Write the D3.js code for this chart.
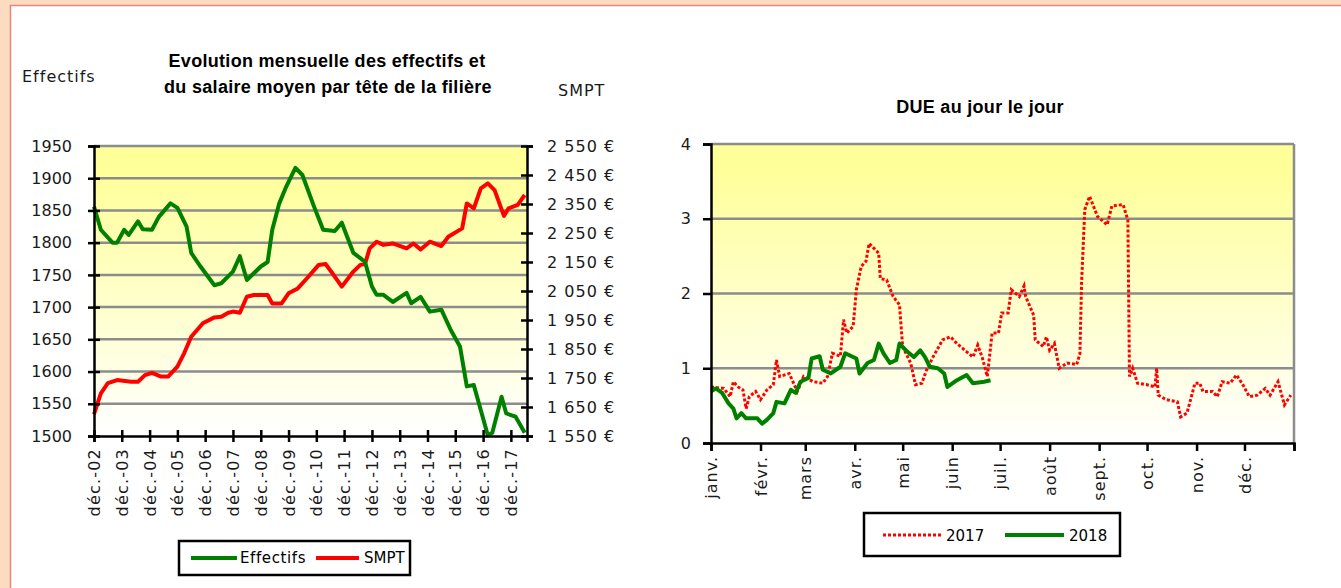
<!DOCTYPE html>
<html>
<head>
<meta charset="utf-8">
<script src="https://cdn.jsdelivr.net/npm/d3@7"></script>
<style>
  html, body { margin: 0; padding: 0; background: #fbdcc0; }
  svg { display: block; }
</style>
</head>
<body>
<svg id="chart" width="1341" height="588"></svg>
<script>
// ---- graphique 1 : effectifs et SMPT (mensuel)
const effDates = ['2002-12','2003-03','2003-08','2003-10','2004-01','2004-03','2004-07','2004-09','2005-01','2005-04',
  '2005-09','2005-12','2006-04','2006-06','2006-10','2007-04','2007-07','2007-12','2008-03','2008-06',
  '2008-12','2009-03','2009-05','2009-08','2009-11','2010-03','2010-06','2010-11','2011-03','2011-08',
  '2011-11','2012-04','2012-07','2012-09','2012-12','2013-02','2013-05','2013-09','2014-03','2014-05',
  '2014-09','2015-01','2015-06','2015-10','2016-02','2016-05','2016-08','2016-11','2017-02','2017-04',
  '2017-08','2017-10','2018-02','2018-06'];
const effValues = [1856,1820,1800,1800,1820,1812,1833,1821,1820,1840,
  1861,1854,1825,1784,1763,1734,1737,1755,1779,1742,
  1763,1770,1820,1861,1887,1916,1905,1856,1820,1818,
  1831,1784,1776,1770,1732,1719,1719,1708,1722,1706,
  1716,1693,1696,1665,1639,1577,1579,1540,1501,1505,
  1561,1535,1530,1505];

const smptDates = ['2002-12','2003-03','2003-06','2003-10','2004-04','2004-07','2004-10','2005-01','2005-05','2005-08',
  '2005-12','2006-03','2006-06','2006-11','2007-04','2007-07','2007-10','2007-12','2008-03','2008-06',
  '2008-09','2009-03','2009-05','2009-09','2009-12','2010-04','2010-08','2011-01','2011-04','2011-07',
  '2011-11','2012-04','2012-07','2012-09','2012-11','2013-02','2013-05','2013-09','2014-03','2014-06',
  '2014-09','2015-01','2015-06','2015-09','2016-03','2016-05','2016-08','2016-11','2017-02','2017-05',
  '2017-09','2017-11','2018-03','2018-06'];
const smptValues = [1625,1697,1732,1743,1737,1737,1760,1768,1755,1755,
  1789,1836,1892,1939,1959,1961,1975,1979,1975,2030,
  2036,2036,2007,2007,2042,2059,2094,2140,2143,2111,
  2065,2117,2140,2143,2197,2220,2209,2214,2197,2214,
  2193,2220,2205,2237,2266,2352,2335,2404,2421,2398,
  2309,2335,2347,2381];

const yearTickDates = ['2002-12','2003-12','2004-12','2005-12','2006-12','2007-12','2008-12','2009-12',
  '2010-12','2011-12','2012-12','2013-12','2014-12','2015-12','2016-12','2017-12'];
const yearLabels = ['déc.-02','déc.-03','déc.-04','déc.-05','déc.-06','déc.-07','déc.-08','déc.-09',
  'déc.-10','déc.-11','déc.-12','déc.-13','déc.-14','déc.-15','déc.-16','déc.-17'];
const effTicks = [1500,1550,1600,1650,1700,1750,1800,1850,1900,1950];
const smptTicks = [1550,1650,1750,1850,1950,2050,2150,2250,2350,2450,2550];

// ---- graphique 2 : DUE au jour le jour (jour de l'année)
const days2017 = [0,8,12,14,17,20,22,24,28,31,35,39,41,43,49,54,58,64,70,73,
  76,81,83,85,89,91,94,97,99,105,106,110,114,118,120,125,128,132,135,139,
  145,150,154,159,164,167,170,173,176,180,182,186,188,193,196,197,202,203,208,210,
  212,215,218,223,229,231,232,234,237,242,248,251,258,261,262,264,267,273,278,279,
  280,285,292,294,298,303,306,308,314,317,320,325,329,333,337,342,347,350,355,359,363];
const due2017 = [0.75,0.73,0.62,0.82,0.75,0.71,0.46,0.62,0.69,0.58,0.71,0.78,1.11,0.89,0.93,0.69,0.89,0.82,0.80,0.89,
  1.20,1.16,1.65,1.47,1.56,2.05,2.36,2.43,2.67,2.54,2.20,2.18,1.96,1.85,1.29,1.07,0.78,0.80,0.98,1.15,
  1.38,1.42,1.33,1.24,1.15,1.31,1.13,0.89,1.47,1.47,1.74,1.74,2.05,1.96,2.10,1.96,1.71,1.38,1.29,1.42,
  1.24,1.33,1.00,1.07,1.05,1.20,2.14,3.12,3.30,3.03,2.92,3.17,3.19,2.98,0.89,1.00,0.80,0.78,0.75,1.00,
  0.64,0.58,0.55,0.35,0.40,0.80,0.80,0.69,0.69,0.62,0.82,0.80,0.91,0.78,0.62,0.64,0.73,0.64,0.82,0.51,0.64];

const days2018 = [0,3,7,11,14,16,19,22,29,32,35,39,41,46,50,53,56,61,63,68,
  70,75,81,84,91,93,98,102,105,108,112,116,118,123,127,131,134,137,142,146,
  148,154,160,164,171,175];
const due2018 = [0.69,0.73,0.67,0.53,0.46,0.33,0.40,0.33,0.33,0.26,0.31,0.40,0.55,0.53,0.71,0.67,0.82,0.87,1.13,1.16,
  0.98,0.93,1.02,1.20,1.13,0.93,1.07,1.11,1.33,1.20,1.07,1.11,1.33,1.22,1.15,1.24,1.15,1.02,1.00,0.93,
  0.75,0.84,0.91,0.80,0.82,0.84];

const monthLabels = ['janv.','févr.','mars','avr.','mai','juin','juil.','août','sept.','oct.','nov.','déc.'];
const dueTicks = [0,1,2,3,4];

const FONT = "'DejaVu Sans', Verdana, sans-serif";
const TITLE_FONT = "'Liberation Sans', Arial, sans-serif";
const GRID = '#8c8c8c';

const parse = d3.timeParse('%Y-%m');
const svg = d3.select('#chart');

// fond de la feuille
svg.append('rect').attr('width', 1341).attr('height', 588).attr('fill', '#fbdcc0');
svg.append('rect')
  .attr('x', 10.5).attr('y', 5.5).attr('width', 1340).attr('height', 590)
  .attr('fill', '#ffffff').attr('stroke', '#e3877d').attr('stroke-width', 1.5);

const grad = svg.append('defs').append('linearGradient')
  .attr('id', 'fond').attr('x1', 0).attr('y1', 0).attr('x2', 0).attr('y2', 1);
grad.append('stop').attr('offset', '0%').attr('stop-color', '#ffff99');
grad.append('stop').attr('offset', '8%').attr('stop-color', '#ffff99');
grad.append('stop').attr('offset', '100%').attr('stop-color', '#ffffff');

function styleAxis(g) {
  g.select('.domain').attr('stroke', '#000').attr('stroke-width', 2.5);
  g.selectAll('.tick line').attr('stroke', '#000').attr('stroke-width', 2.5);
  g.selectAll('.tick text').attr('fill', '#1a1a1a').style('font-family', FONT).style('font-size', '16px');
}

function titre(g, x, y, txt) {
  g.append('text').attr('x', x).attr('y', y)
    .attr('text-anchor', 'middle').style('font-family', TITLE_FONT)
    .style('font-weight', 'bold').style('font-size', '18px').style('letter-spacing', '0.3px')
    .text(txt);
}

// ================= graphique 1
const p1 = {left: 94, right: 527, top: 146, bottom: 436};
const x1 = d3.scaleTime().domain([parse('2002-12'), parse('2018-07')]).range([p1.left, p1.right]);
const yEff = d3.scaleLinear().domain([1500, 1950]).range([p1.bottom, p1.top]);
const ySmpt = d3.scaleLinear().domain([1550, 2550]).range([p1.bottom, p1.top]);

const g1 = svg.append('g');
g1.append('rect')
  .attr('x', p1.left).attr('y', p1.top)
  .attr('width', p1.right - p1.left).attr('height', p1.bottom - p1.top)
  .attr('fill', 'url(#fond)');

g1.append('g').selectAll('line')
  .data(effTicks.slice(1))
  .join('line')
  .attr('x1', p1.left).attr('x2', p1.right)
  .attr('y1', d => yEff(d)).attr('y2', d => yEff(d))
  .attr('stroke', GRID).attr('stroke-width', 2.5);

const effData = effDates.map((d, i) => ({date: parse(d), v: effValues[i]}));
const smptData = smptDates.map((d, i) => ({date: parse(d), v: smptValues[i]}));

g1.append('path')
  .datum(smptData)
  .attr('fill', 'none').attr('stroke', '#ff0000').attr('stroke-width', 4)
  .attr('stroke-linejoin', 'round')
  .attr('d', d3.line().x(d => x1(d.date)).y(d => ySmpt(d.v)));

g1.append('path')
  .datum(effData)
  .attr('fill', 'none').attr('stroke', '#008000').attr('stroke-width', 4)
  .attr('stroke-linejoin', 'round')
  .attr('d', d3.line().x(d => x1(d.date)).y(d => yEff(d.v)));

const axL = g1.append('g')
  .attr('transform', `translate(${p1.left},0)`)
  .call(d3.axisLeft(yEff).tickValues(effTicks).tickSize(6).tickPadding(16).tickFormat(d3.format('d')))
  .call(styleAxis);
axL.selectAll('.tick line').attr('x1', -6).attr('x2', 6);

const axR = g1.append('g')
  .attr('transform', `translate(${p1.right},0)`)
  .call(d3.axisRight(ySmpt).tickValues(smptTicks).tickSize(6).tickPadding(14)
    .tickFormat(v => d3.format(',')(v).replace(',', '\u00a0') + '\u00a0€'))
  .call(styleAxis);
axR.selectAll('.tick line').attr('x1', -6).attr('x2', 6);
axR.selectAll('.tick text').style('letter-spacing', '1px');

const axB = g1.append('g')
  .attr('transform', `translate(0,${p1.bottom})`)
  .call(d3.axisBottom(x1).tickValues(yearTickDates.map(parse)).tickSize(6)
    .tickFormat((d, i) => yearLabels[i]))
  .call(styleAxis);
axB.selectAll('.tick line').attr('y1', -6).attr('y2', 6);
axB.selectAll('.tick text')
  .attr('transform', 'rotate(-90)')
  .attr('text-anchor', 'end')
  .attr('x', -12).attr('y', 0).attr('dy', '0.35em')
  .style('letter-spacing', '1.2px');

titre(g1, 327, 67, 'Evolution mensuelle des effectifs et');
titre(g1, 328, 93, 'du salaire moyen par tête de la filière');
g1.append('text').attr('x', 22).attr('y', 82)
  .style('font-family', FONT).style('font-size', '16px').style('letter-spacing', '1px')
  .attr('fill', '#1a1a1a').text('Effectifs');
g1.append('text').attr('x', 558).attr('y', 96)
  .style('font-family', FONT).style('font-size', '16px').style('letter-spacing', '1px')
  .attr('fill', '#1a1a1a').text('SMPT');

// légende 1
const lg1 = g1.append('g');
lg1.append('rect').attr('x', 179).attr('y', 541).attr('width', 231).attr('height', 34)
  .attr('fill', '#fff').attr('stroke', '#000').attr('stroke-width', 2.5);
lg1.append('line').attr('x1', 191).attr('x2', 237).attr('y1', 558).attr('y2', 558)
  .attr('stroke', '#008000').attr('stroke-width', 4);
lg1.append('text').attr('x', 240).attr('y', 563).style('font-family', FONT)
  .style('font-size', '15px').style('letter-spacing', '0.6px').text('Effectifs');
lg1.append('line').attr('x1', 316).attr('x2', 359).attr('y1', 558).attr('y2', 558)
  .attr('stroke', '#ff0000').attr('stroke-width', 4);
lg1.append('text').attr('x', 364).attr('y', 563).style('font-family', FONT)
  .style('font-size', '15px').text('SMPT');

// ================= graphique 2
const p2 = {left: 711, right: 1294, top: 144, bottom: 443};
const start = new Date(2017, 0, 1);
const x2 = d3.scaleTime().domain([start, new Date(2018, 0, 1)]).range([p2.left, p2.right]);
const y2 = d3.scaleLinear().domain([0, 4]).range([p2.bottom, p2.top]);
const day = d => d3.timeDay.offset(start, d);

const g2 = svg.append('g');
g2.append('rect')
  .attr('x', p2.left).attr('y', p2.top)
  .attr('width', p2.right - p2.left).attr('height', p2.bottom - p2.top)
  .attr('fill', 'url(#fond)');
g2.append('g').selectAll('line')
  .data(dueTicks.slice(1))
  .join('line')
  .attr('x1', p2.left).attr('x2', p2.right)
  .attr('y1', d => y2(d)).attr('y2', d => y2(d))
  .attr('stroke', GRID).attr('stroke-width', 2.5);
g2.append('line').attr('x1', p2.right).attr('x2', p2.right)
  .attr('y1', p2.top).attr('y2', p2.bottom)
  .attr('stroke', GRID).attr('stroke-width', 2.5);

const line2 = d3.line().x(d => x2(day(d[0]))).y(d => y2(d[1]));
g2.append('path')
  .datum(days2017.map((d, i) => [d, due2017[i]]))
  .attr('fill', 'none').attr('stroke', '#ff0000').attr('stroke-width', 3)
  .attr('stroke-dasharray', '3,2')
  .attr('d', line2);
g2.append('path')
  .datum(days2018.map((d, i) => [d, due2018[i]]))
  .attr('fill', 'none').attr('stroke', '#008000').attr('stroke-width', 4)
  .attr('stroke-linejoin', 'round')
  .attr('d', line2);

g2.append('g')
  .attr('transform', `translate(${p2.left},0)`)
  .call(d3.axisLeft(y2).tickValues(dueTicks).tickSize(8).tickPadding(12).tickFormat(d3.format('d')))
  .call(styleAxis);

const monthTicks = d3.timeMonth.range(start, new Date(2018, 0, 2));
const axB2 = g2.append('g')
  .attr('transform', `translate(0,${p2.bottom})`)
  .call(d3.axisBottom(x2).tickValues(monthTicks).tickSize(8)
    .tickFormat((d, i) => monthLabels[i] || ''))
  .call(styleAxis);
axB2.selectAll('.tick text')
  .attr('transform', 'rotate(-90)')
  .attr('text-anchor', 'end')
  .attr('x', -13).attr('y', 0).attr('dy', '0.35em')
  .style('letter-spacing', '1px');

titre(g2, 980, 113, 'DUE au jour le jour');

// légende 2
const lg2 = g2.append('g');
lg2.append('rect').attr('x', 864).attr('y', 513).attr('width', 256).attr('height', 43)
  .attr('fill', '#fff').attr('stroke', '#000').attr('stroke-width', 2.5);
lg2.append('line').attr('x1', 883).attr('x2', 942).attr('y1', 535).attr('y2', 535)
  .attr('stroke', '#ff0000').attr('stroke-width', 3).attr('stroke-dasharray', '3,2');
lg2.append('text').attr('x', 946).attr('y', 541).style('font-family', FONT)
  .style('font-size', '15px').text('2017');
lg2.append('line').attr('x1', 1005).attr('x2', 1064).attr('y1', 535).attr('y2', 535)
  .attr('stroke', '#008000').attr('stroke-width', 4);
lg2.append('text').attr('x', 1069).attr('y', 541).style('font-family', FONT)
  .style('font-size', '15px').text('2018');
</script>
</body>
</html>
